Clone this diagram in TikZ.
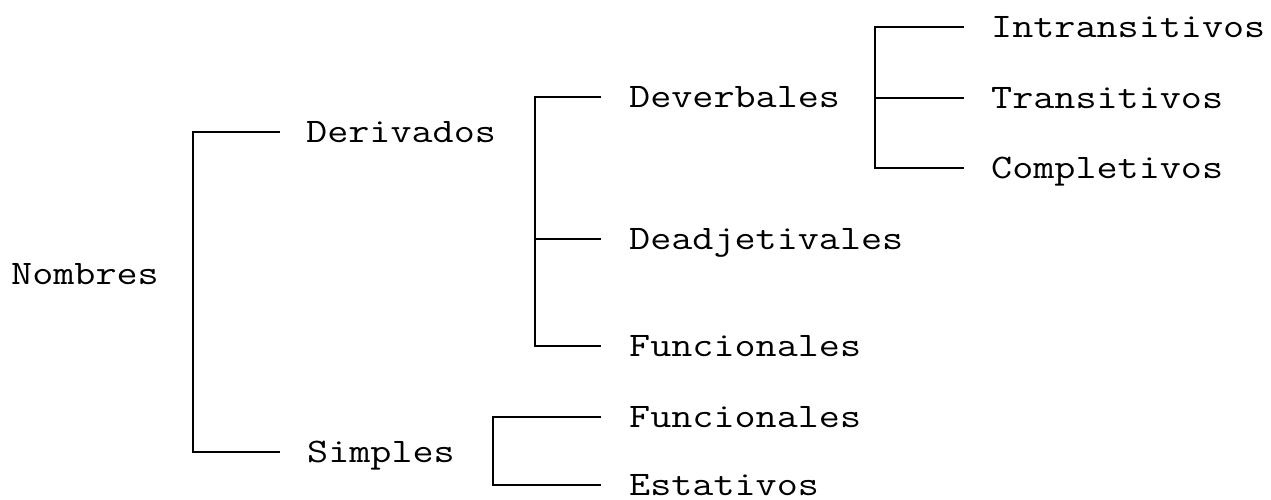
\documentclass[tikz,border=0pt]{standalone}
\usepackage{fontspec}
\newfontfamily\courfont[FakeStretch=1.19]{Latin Modern Mono}
\tikzset{
  lbl/.style={anchor=west, inner sep=0pt, text height=21pt, text depth=0pt,
    font=\courfont\fontsize{34.4pt}{40pt}\selectfont},
  br/.style={line width=2pt, black}
}
\begin{document}
\begin{tikzpicture}[x=1pt,y=-1pt]
\useasboundingbox (0,0) rectangle (1271,499);
% nodes
\node[lbl] (nom)  at (11,273.5) {Nombres};
\node[lbl] (der)  at (306,132) {Derivados};
\node[lbl] (sim)  at (307,452) {Simples};
\node[lbl] (dev)  at (629,97) {Deverbales};
\node[lbl] (dea)  at (629,239) {Deadjetivales};
\node[lbl] (fun1) at (629,346) {Funcionales};
\node[lbl] (fun2) at (629,417) {Funcionales};
\node[lbl] (est)  at (629,485) {Estativos};
\node[lbl] (int)  at (991,26.5) {Intransitivos};
\node[lbl] (tra)  at (991,98) {Transitivos};
\node[lbl] (com)  at (991,168) {Completivos};
% bracket spines
\coordinate (b1) at (192.5,0);
\coordinate (b2) at (534.5,0);
\coordinate (b3) at (875,0);
\coordinate (b4) at (493,0);
% bracket 1: Nombres
\draw[br] ([xshift=-26pt]der.west) -- (b1 |- der.west) -- (b1 |- sim.west) -- ([xshift=-27pt]sim.west);
% bracket 2: Derivados
\draw[br] ([xshift=-28pt]dev.west) -- (b2 |- dev.west) -- (b2 |- fun1.west) -- ([xshift=-28pt]fun1.west);
\draw[br] (b2 |- dea.west) -- ([xshift=-28pt]dea.west);
% bracket 3: Deverbales
\draw[br] ([xshift=-27pt]int.west) -- (b3 |- int.west) -- (b3 |- com.west) -- ([xshift=-27pt]com.west);
\draw[br] (b3 |- tra.west) -- ([xshift=-27pt]tra.west);
% bracket 4: Simples
\draw[br] ([xshift=-28pt]fun2.west) -- (b4 |- fun2.west) -- (b4 |- est.west) -- ([xshift=-28pt]est.west);
\end{tikzpicture}
\end{document}
